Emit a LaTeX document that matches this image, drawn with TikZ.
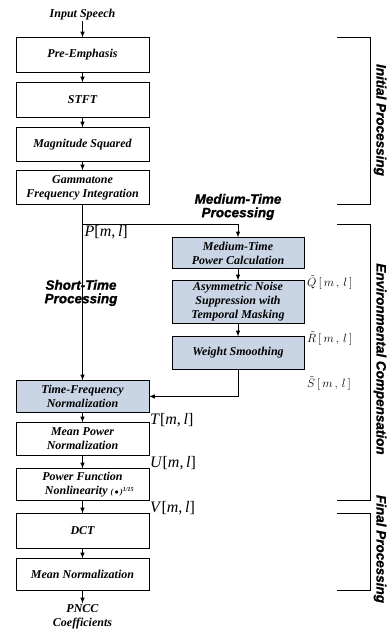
\documentclass[tikz,border=0pt]{standalone}
\usepackage{fontspec}
\setmainfont{Liberation Serif}
\newfontfamily\stagesans[FakeBold=1.2]{Liberation Sans}
\usetikzlibrary{shapes,arrows,positioning}
\definecolor{stagefill}{RGB}{201,213,229}

\begin{document}
\begin{tikzpicture}[
    x=1pt, y=1pt,
    node distance=10pt,
    box/.style={rectangle, draw, line width=1pt, minimum width=133pt, minimum height=34pt, inner sep=1pt, outer sep=0pt, align=center, font=\fontsize{12}{14}\selectfont\bfseries\itshape},
    shaded/.style={box, fill=stagefill},
    plain/.style={align=center, inner sep=1pt, outer sep=0pt, font=\fontsize{12}{14}\selectfont\bfseries\itshape},
    sig/.style={inner sep=1pt, font=\fontsize{16}{18}\selectfont},
    tsig/.style={inner sep=1pt, font=\fontsize{12}{14}\selectfont},
    stage/.style={align=center, inner sep=0pt, font=\fontsize{13.5}{13.5}\selectfont\stagesans\bfseries\itshape},
    arrow/.style={-latex, line width=1pt},
    bracket/.style={line width=1pt}
]

\useasboundingbox (0,0) rectangle (386,-629);

% main chain
\node[plain] (speech) at (82.5,-15) {Input Speech};
\node[box, minimum height=35pt, below=16pt of speech] (pre) {Pre-Emphasis};
\node[box, minimum height=35pt, below=10pt of pre] (stft) {STFT};
\node[box, below=10pt of stft] (mag) {Magnitude Squared};
\node[box, below=9pt of mag] (gamm) {Gammatone\\Frequency Integration};

\node[shaded, minimum height=32pt, below=176pt of gamm] (tfn) {Time-Frequency\\Normalization};
\node[box, minimum height=33pt, below=10pt of tfn] (mpn) {Mean Power\\Normalization};
\node[box, minimum height=32pt, below=13pt of mpn] (pfn) {Power Function\\\hspace*{14pt}Nonlinearity {\fontsize{8}{8}\selectfont(\,$\bullet$\,)\textsuperscript{1/15}}};
\node[box, minimum height=35pt, below=13pt of pfn] (dct) {DCT};
\node[box, minimum height=32pt, below=10pt of dct] (mnorm) {Mean Normalization};
\node[plain, below=13pt of mnorm] (pncc) {PNCC\\Coefficients};

% medium-time branch
\node[shaded, minimum width=132pt, minimum height=31pt, below right=33pt and 23pt of gamm] (mtp) {Medium-Time\\Power Calculation};
\node[shaded, minimum width=132pt, minimum height=43pt, below=12pt of mtp] (ans) {Asymmetric Noise\\Suppression with\\Temporal Masking};
\node[shaded, minimum width=132pt, minimum height=33pt, below=13pt of ans] (wsm) {Weight Smoothing};

\coordinate[below=20pt of gamm.south] (split);

\draw[arrow] (speech) -- (pre);
\draw[arrow] (pre) -- (stft);
\draw[arrow] (stft) -- (mag);
\draw[arrow] (mag) -- (gamm);
\draw[arrow] (gamm) -- (tfn);
\draw[arrow] (split) -| (mtp.north);
\draw[arrow] (mtp) -- (ans);
\draw[arrow] (ans) -- (wsm);
\draw[arrow] (wsm.south) |- (tfn.east);
\draw[arrow] (tfn) -- (mpn);
\draw[arrow] (mpn) -- (pfn);
\draw[arrow] (pfn) -- (dct);
\draw[arrow] (dct) -- (mnorm);
\draw[arrow] (mnorm) -- (pncc);

% signal labels
\node[sig, anchor=north west] (plab) at ([xshift=1pt]split) {\textit{P}[\textit{m},\,\textit{l}]};
\node[tsig, anchor=west] (qlab) at ([xshift=2pt,yshift=-2pt]ans.north east) {$\tilde{Q}\,[\,m\,,\,l\,]$};
\node[tsig, anchor=west] (rlab) at ([xshift=2pt,yshift=-2pt]wsm.north east) {$\tilde{R}\,[\,m\,,\,l\,]$};
\node[tsig, anchor=west] (slab) at ([xshift=2pt,yshift=-14pt]wsm.south east) {$\tilde{S}\,[\,m\,,\,l\,]$};
\node[sig, anchor=north west] (tlab) at (tfn.south east) {\textit{T}[\textit{m},\,\textit{l}]};
\node[sig, anchor=north west] (ulab) at (mpn.south east) {\textit{U}[\textit{m},\,\textit{l}]};
\node[sig, anchor=north west] (vlab) at (pfn.south east) {\textit{V}[\textit{m},\,\textit{l}]};

\node[stage] (mtlab) at (238,-207) {Medium-Time\\Processing};
\node[stage] (stlab) at (81,-293) {Short-Time\\Processing};

% stage brackets
\coordinate (bl) at (337,0);
\coordinate (br) at (370,0);
\draw[bracket] (pre.north -| bl) -- (pre.north -| br) -- (gamm.south -| br) -- (gamm.south -| bl);
\draw[bracket] (split -| bl) -- (split -| br) -- (pfn.south -| br) -- (pfn.south -| bl);
\draw[bracket] (dct.north -| bl) -- (dct.north -| br) -- (mnorm.south -| br) -- (mnorm.south -| bl);

\node[stage, rotate=-90] (initlab) at (380,-120) {Initial Processing};
\node[stage, rotate=-90] (envlab) at (380,-359) {Environmental Compensation};
\node[stage, rotate=-90] (finlab) at (380,-549) {Final Processing};

\end{tikzpicture}
\end{document}
